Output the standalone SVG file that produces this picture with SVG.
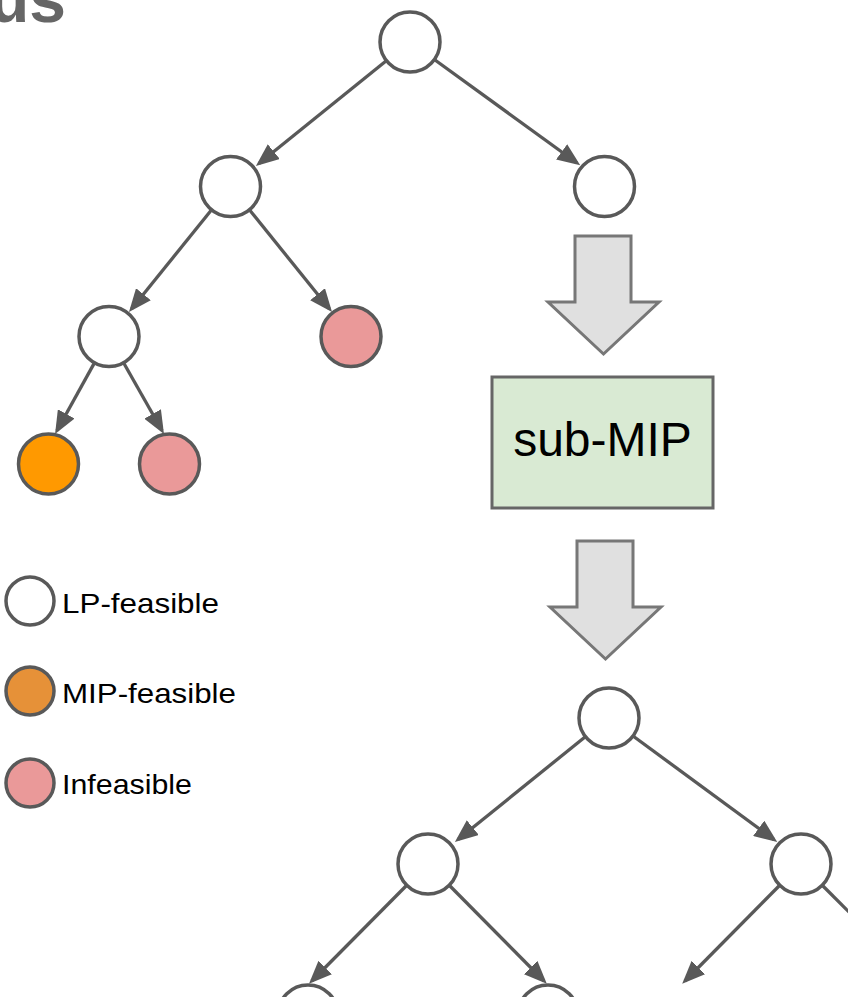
<svg xmlns="http://www.w3.org/2000/svg" width="848" height="997" viewBox="0 0 848 997">
  <style>
    .node { stroke: #595959; stroke-width: 3.5; }
    .lp { fill: #ffffff; }
    .mip { fill: #ff9900; }
    .mip-key { fill: #e69138; }
    .inf { fill: #ea9999; }
    .edge { stroke: #595959; stroke-width: 3.3; fill: none; marker-end: url(#head); }
    .plain { stroke: #595959; stroke-width: 3.3; fill: none; }
    .block { fill: #e0e0e0; stroke: #777777; stroke-width: 3; stroke-linejoin: miter; }
    .legend { font-family: "Liberation Sans", Arial, sans-serif; font-size: 28px; fill: #000000; }
    .title { font-family: "Liberation Sans", Arial, sans-serif; font-size: 66px; font-weight: bold; fill: #666666; }
  </style>
  <defs>
    <marker id="head" viewBox="0 0 23 19" refX="19" refY="9.5" markerWidth="23" markerHeight="19" markerUnits="userSpaceOnUse" orient="auto">
      <path d="M0,0 L23,9.5 L0,19 z" fill="#595959"/>
    </marker>
  </defs>

  <rect width="848" height="997" fill="#ffffff"/>

  <!-- heading, clipped by the top-left corner -->
  <text class="title" x="66" y="22" text-anchor="end">us</text>

  <!-- connectors -->
  <g id="connectors">
    <line class="edge" x1="386" y1="61" x2="259" y2="163.5"/>
    <line class="edge" x1="435" y1="60" x2="577" y2="163"/>
    <line class="edge" x1="211" y1="210.5" x2="131.5" y2="309"/>
    <line class="edge" x1="250" y1="210.5" x2="329.5" y2="309"/>
    <line class="edge" x1="94" y1="363.6" x2="57" y2="430.5"/>
    <line class="edge" x1="124" y1="363.5" x2="162" y2="430.5"/>

    <line class="edge" x1="585" y1="737" x2="458" y2="839.5"/>
    <line class="edge" x1="633" y1="736" x2="774" y2="839.6"/>
    <line class="edge" x1="406" y1="886" x2="311.8" y2="981"/>
    <line class="edge" x1="450" y1="886" x2="544" y2="981"/>
    <line class="edge" x1="779" y1="886" x2="685" y2="981"/>
    <line class="plain" x1="823" y1="886" x2="870" y2="933"/>
  </g>

  <!-- upper tree -->
  <g id="root"><circle class="node lp" cx="410" cy="42" r="30"/></g>
  <g id="n-left"><circle class="node lp" cx="230.5" cy="186.5" r="30"/></g>
  <g id="n-right"><circle class="node lp" cx="604.5" cy="186.5" r="30"/></g>
  <g id="n-left-left"><circle class="node lp" cx="109" cy="336.5" r="30"/></g>
  <g id="n-left-right"><circle class="node inf" cx="351" cy="336.5" r="30"/></g>
  <g id="leaf-mip"><circle class="node mip" cx="48.5" cy="464" r="30"/></g>
  <g id="leaf-inf"><circle class="node inf" cx="169.5" cy="464" r="30"/></g>

  <!-- block arrow into the sub-MIP -->
  <g id="arrow-in">
    <polygon class="block" points="575,236 631,236 631,302 659,302 603.5,354 548,302 575,302"/>
  </g>

  <g id="sub-mip">
    <rect x="492" y="377" width="221" height="131" fill="#d9ead3" stroke="#666666" stroke-width="3"/>
    <text x="602.5" y="456" text-anchor="middle" font-family="'Liberation Sans', Arial, sans-serif" font-size="48" fill="#000000">sub-MIP</text>
  </g>

  <!-- block arrow out of the sub-MIP -->
  <g id="arrow-out">
    <polygon class="block" points="577,541 633,541 633,607 661,607 605.5,659 550,607 577,607"/>
  </g>

  <!-- lower tree -->
  <g id="sub-root"><circle class="node lp" cx="609" cy="718" r="30"/></g>
  <g id="sub-left"><circle class="node lp" cx="428" cy="864" r="30"/></g>
  <g id="sub-right"><circle class="node lp" cx="801" cy="864" r="30"/></g>
  <g id="sub-left-left"><circle class="node lp" cx="308" cy="1015" r="30"/></g>
  <g id="sub-left-right"><circle class="node lp" cx="548" cy="1015" r="30"/></g>

  <!-- key -->
  <g id="key-lp">
    <circle class="node lp" cx="30" cy="601" r="24"/>
    <text class="legend" x="62" y="613" textLength="157" lengthAdjust="spacingAndGlyphs">LP-feasible</text>
  </g>
  <g id="key-mip">
    <circle class="node mip-key" cx="30" cy="691" r="24"/>
    <text class="legend" x="62" y="703" textLength="174" lengthAdjust="spacingAndGlyphs">MIP-feasible</text>
  </g>
  <g id="key-inf">
    <circle class="node inf" cx="30" cy="783" r="24"/>
    <text class="legend" x="62" y="794" textLength="130" lengthAdjust="spacingAndGlyphs">Infeasible</text>
  </g>
</svg>
